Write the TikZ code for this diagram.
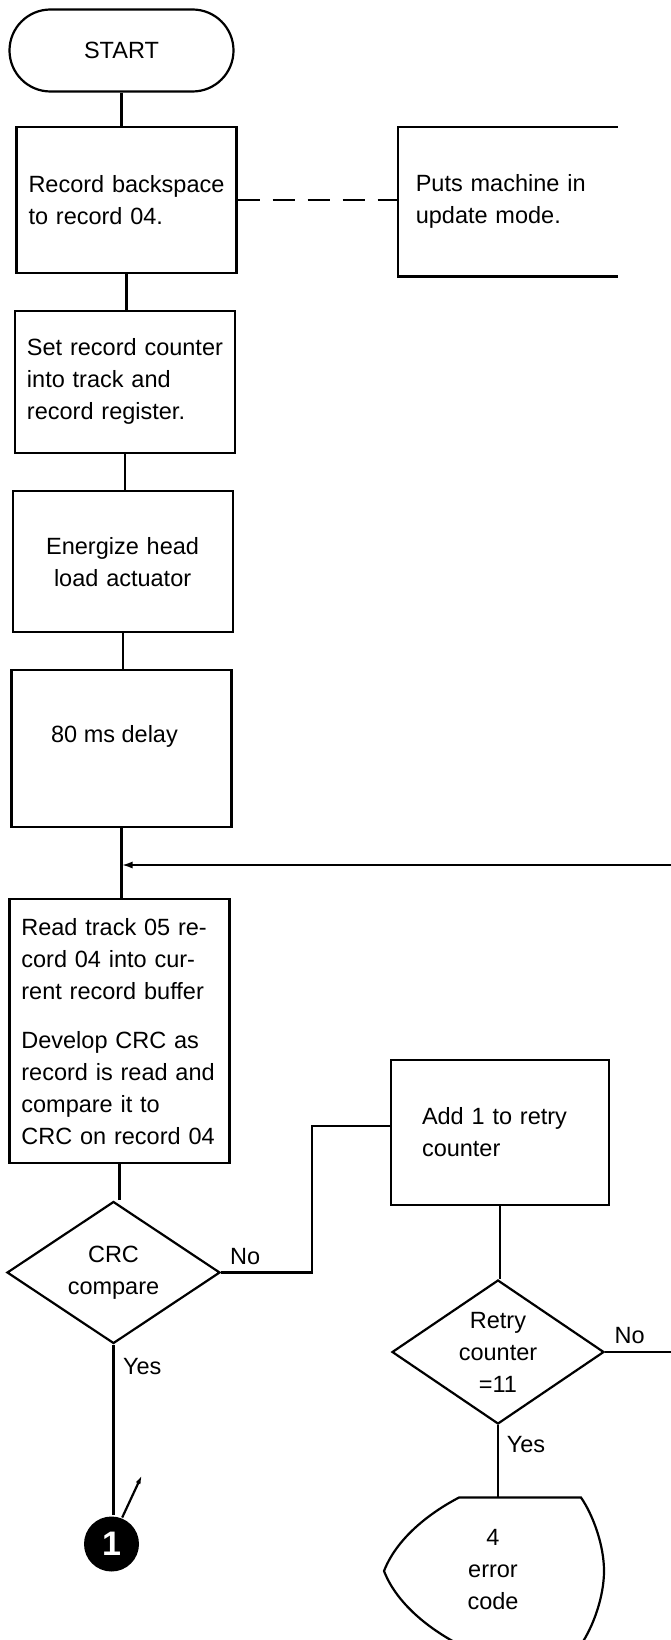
\documentclass[tikz,border=0pt]{standalone}
\usepackage{fontspec}
\setmainfont{Liberation Sans}
\usetikzlibrary{arrows.meta,shapes.geometric}

\begin{document}
\begin{tikzpicture}[x=1pt,y=-1pt,line width=2.2pt,
        font=\fontsize{23.5}{32}\selectfont,
        terminal/.style={draw,rounded corners=41pt,minimum width=224pt,minimum height=82pt},
        procbox/.style={draw,text width=196pt,inner xsep=12pt,align=left},
        decision/.style={draw,diamond,aspect=1.5,inner sep=0pt,minimum width=213pt,minimum height=142pt,align=center},
        yesno/.style={inner sep=0pt,anchor=base west},
        tip/.style={-{Latex[length=11pt,width=7pt]}}]
            \useasboundingbox (0,0) rectangle (671,1640);

            \node[terminal] (start) at (121.5,50.5) {START};
            \node[procbox,minimum height=146pt] (backsp) at (126.5,200.3) {Record backspace\\to record 04.};
            \node[text width=184pt,inner xsep=17pt,minimum height=147pt,align=left] (update) at (507.8,201.8) {Puts machine in\\update mode.};
            \node[procbox,minimum height=142pt] (setctr) at (125,381.7) {Set record counter\\into track and\\record register.};
            \node[procbox,minimum height=141pt,align=center] (energize) at (122.6,561.7) {Energize head\\load actuator};
            \node[procbox,minimum height=157pt] (delay) at (121.5,748.3) {};
            \node (delaytxt) at ([xshift=-7pt,yshift=12pt]delay.center) {80 ms delay};
            \node[procbox,minimum height=264pt] (readrec) at (119.4,1031.2) {Read track 05 re-\\cord 04 into cur-\\rent record buffer\\[17pt]Develop CRC as\\record is read and\\compare it to\\CRC on record 04};
            \node[decision] (crc) at (113.5,1272.5) {CRC\\compare};
            \node[procbox,text width=156pt,inner xsep=31pt,minimum height=145pt] (addone) at (500,1132.5) {Add 1 to retry\\counter};
            \node[decision,minimum width=212pt,minimum height=144pt] (retry) at (498,1352) {Retry\\counter\\=11};
            \node[circle,fill=black,minimum size=55pt,inner sep=0pt,text=white,
                font=\fontsize{34}{34}\selectfont\bfseries] (one) at (111.5,1544) {1};
            \node[align=center] (errcode) at (493,1570) {4\\error\\code};

            \node[yesno] (crcno) at ([xshift=8pt,yshift=8.5pt]crc.east) {No};
            \node[yesno] (crcyes) at ([xshift=8.5pt,yshift=-29.5pt]crc.south) {Yes};
            \node[yesno] (retryno) at ([xshift=8.5pt,yshift=9pt]retry.east) {No};
            \node[yesno] (retryyes) at ([xshift=7.7pt,yshift=-27.7pt]retry.south) {Yes};

            \coordinate (loopin) at (671,865);
            \coordinate (retryexit) at (671,1352);
            \coordinate (errtop) at (498,1497.5);
            \coordinate (onetip) at (142,1475);

            \draw (update.north east) -- (update.north west) -- (update.south west) -- (update.south east);
            \draw[dash pattern=on 22pt off 13pt] (backsp.east) -- (backsp.east -| update.west);

            \draw (start.south) -- (start.south |- backsp.north);
            \draw (backsp.south) -- (backsp.south |- setctr.north);
            \draw (setctr.south) -- (setctr.south |- energize.north);
            \draw (energize.south) -- (energize.south |- delay.north);
            \draw (delay.south) -- (delay.south |- readrec.north);
            \draw[tip] (loopin) -- (loopin -| delay.south);
            \draw (readrec.south) -- (readrec.south |- crc.north);
            \draw (crc.east) -- ++(90.5,0) |- ([yshift=6.5pt]addone.west);
            \draw (crc.south) -- (crc.south |- one.north);
            \draw[-{Latex[length=9pt,width=5pt]}] (one.68) -- (onetip);
            \draw (addone.south) -- (addone.south |- retry.north);
            \draw (retry.east) -- (retryexit);
            \draw (retry.south) -- (errtop);

            \draw (459,1497.5) -- (581,1497.5)
                .. controls (593,1515) and (604,1545) .. (604,1571)
                .. controls (604,1597) and (593,1627) .. (581,1644.5)
                -- (459,1644.5)
                .. controls (435,1632) and (398,1607) .. (384,1571)
                .. controls (398,1535) and (435,1510) .. cycle;
        \end{tikzpicture}
\end{document}
